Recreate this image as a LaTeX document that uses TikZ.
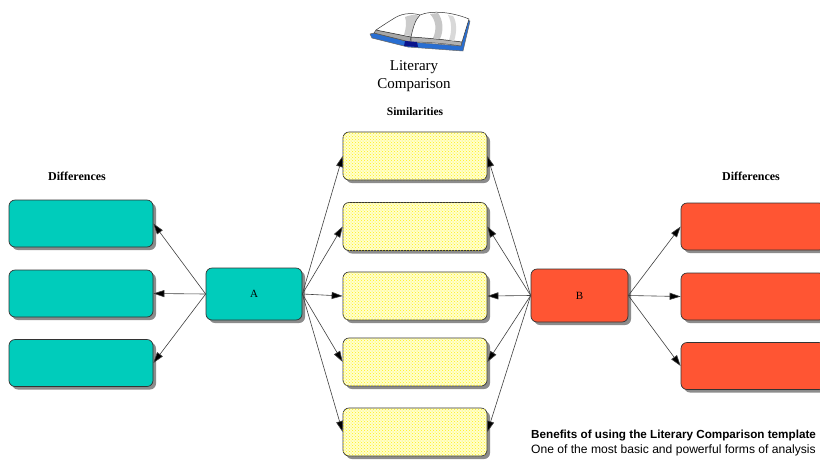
\documentclass[tikz,border=0pt]{standalone}
\usepackage{fontspec}
\setmainfont{Liberation Serif}
\newfontfamily\arialfont{Liberation Sans}
\usetikzlibrary{arrows.meta,shadows,patterns}
\definecolor{tealbox}{RGB}{0,204,187}
\definecolor{redbox}{RGB}{255,85,51}
\definecolor{paleyel}{RGB}{255,255,205}
\definecolor{dotyel}{RGB}{255,240,20}
\definecolor{coverblue}{RGB}{40,110,210}
\definecolor{darkblue}{RGB}{10,20,140}
\tikzset{
  box/.style={draw=black!80, line width=0.7pt, rounded corners=6pt, inner sep=0pt,
    drop shadow={shadow xshift=3pt, shadow yshift=-3pt, fill=black!45, opacity=1}},
  tealb/.style={box, fill=tealbox},
  redb/.style={box, fill=redbox},
  simb/.style={box, fill=paleyel, postaction={pattern=crosshatch dots, pattern color=dotyel}},
  diffbox/.style={minimum width=144pt, minimum height=47pt},
  hub/.style={minimum width=96pt, minimum height=52pt, font=\fontsize{11}{13}\selectfont},
  conn/.style={draw=black!75, line width=0.6pt, -{Triangle[length=11pt,width=7pt,fill=black]}},
  head/.style={font=\bfseries\fontsize{12}{14}\selectfont},
}
\begin{document}
\begin{tikzpicture}[x=1pt,y=-1pt]
\useasboundingbox (0,0) rectangle (820,459);
\fill[white] (0,0) rectangle (820,459);

% book
\begin{scope}[line width=0.5pt, line join=round]
% cover
\filldraw[fill=coverblue, draw=black!60] (370,34) -- (372,38) -- (408,47) -- (463,51) -- (470,21) -- (467,20) -- (461,46) -- (410,42) -- (374,33) -- cycle;
% left page stack edge
\filldraw[fill=black!35, draw=black!70] (374,33) -- (410,42) -- (411,37) -- (376,30) -- cycle;
% left page surface
\filldraw[fill=white, draw=black!80] (376,30) .. controls (382,26) and (388,22) .. (393,19)
  .. controls (400,14) and (410,12) .. (420,15) .. controls (416,22) and (413,30) .. (411,37) -- cycle;
\fill[black!20] (405,17) .. controls (410,15) and (415,14) .. (419,16) .. controls (415,23) and (413,30) .. (411,36) -- (404,35) .. controls (406,28) and (407,22) .. (405,17) -- cycle;
% right page stack edge
\filldraw[fill=black!30, draw=black!70] (411,37) -- (411,42) .. controls (430,42) and (448,44) .. (461,46) -- (462,42) .. controls (448,40) and (428,38) .. (411,37) -- cycle;
% right page surface
\filldraw[fill=white, draw=black!80] (411,37) .. controls (413,28) and (415,20) .. (420,15)
  .. controls (432,10) and (452,12) .. (469,19) -- (462,42) .. controls (448,40) and (428,38) .. (411,37) -- cycle;
\fill[black!22] (430,14) .. controls (436,20) and (437,30) .. (433,38) -- (440,39) .. controls (444,30) and (443,20) .. (438,13) -- cycle;
\fill[black!15] (448,15) .. controls (452,22) and (452,32) .. (449,40) -- (454,41) .. controls (457,32) and (457,22) .. (453,16) -- cycle;
% spine
\fill[darkblue] (405,41) -- (417,42) -- (418,47) -- (404,46) -- cycle;
\end{scope}

% titles
\node (t1) at (414,67) {\fontsize{15}{17}\selectfont Literary};
\node (t2) at (414,85) {\fontsize{15}{17}\selectfont Comparison};
\node[head, font=\bfseries\fontsize{11.5}{14}\selectfont] (sim) at (415,112) {Similarities};
\node[head] (dl) at (77,176) {Differences};
\node[head] (dr) at (751,176) {Differences};

% left differences
\node[tealb, diffbox] (l1) at (81,223.5) {};
\node[tealb, diffbox] (l2) at (81,293.5) {};
\node[tealb, diffbox] (l3) at (81,363) {};

% A
\node[tealb, hub] (A) at (254,294) {A};

% similarities
\node[simb, diffbox, minimum height=48pt] (s1) at (415,156) {};
\node[simb, diffbox, minimum height=48pt] (s2) at (415,226.5) {};
\node[simb, diffbox, minimum height=48pt] (s3) at (415,296) {};
\node[simb, diffbox, minimum height=48pt] (s4) at (415,362) {};
\node[simb, diffbox, minimum height=48pt] (s5) at (415,432) {};

% B
\node[redb, hub, minimum width=97pt, minimum height=53pt] (B) at (579.5,295.5) {B};

% right differences
\node[redb, diffbox] (r1) at (753,226.5) {};
\node[redb, diffbox] (r2) at (753,296.5) {};
\node[redb, diffbox] (r3) at (753,366) {};

% connectors
\foreach \t in {l1,l2,l3} \draw[conn] (A.west) -- (\t.east);
\foreach \t in {s1,s2,s3,s4,s5} \draw[conn] (A.east) -- (\t.west);
\foreach \t in {s1,s2,s3,s4,s5} \draw[conn] (B.west) -- (\t.east);
\foreach \t in {r1,r2,r3} \draw[conn] (B.east) -- (\t.west);

% bottom text
\node[anchor=base west, inner sep=0pt, font=\arialfont\bfseries\fontsize{11.7}{14}\selectfont] (ben) at (531,438) {Benefits of using the Literary Comparison template};
\node[anchor=base west, inner sep=0pt, font=\arialfont\fontsize{12.1}{14}\selectfont] (one) at (531,453) {One of the most basic and powerful forms of analysis};
\end{tikzpicture}
\end{document}
